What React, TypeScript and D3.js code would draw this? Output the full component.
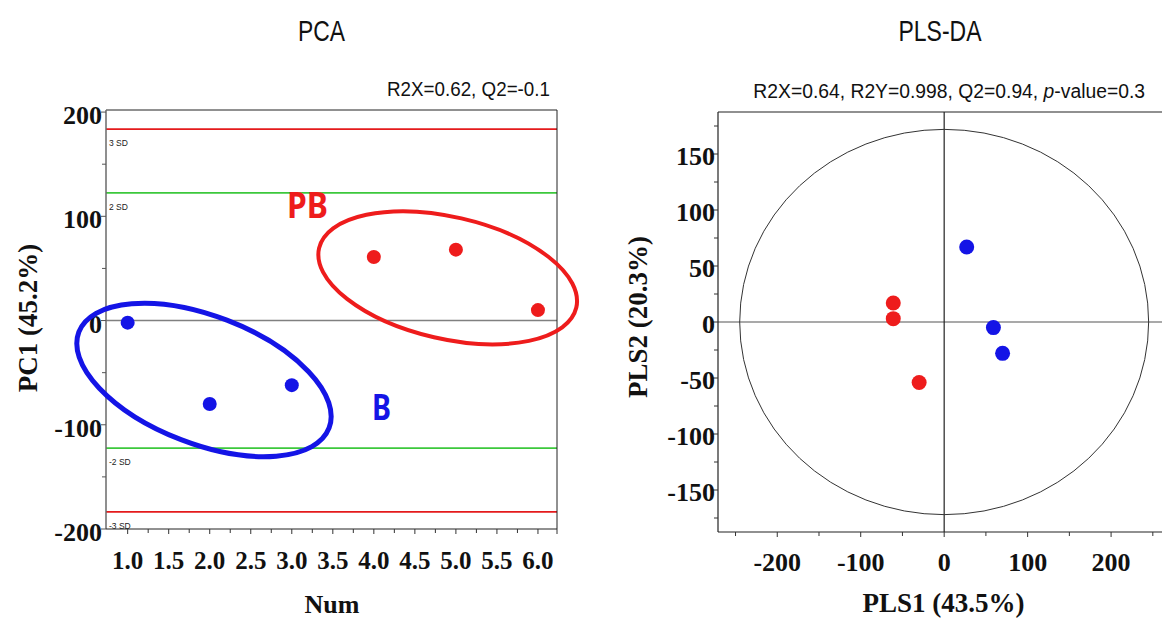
import React from "react";
import * as d3 from "d3";

// ---------- PCA data ----------
const pcaNum = [1, 2, 3, 4, 5, 6];
const pcaPC1 = [-2, -80, -62, 61, 68, 10];
const pcaGroup = ["B", "B", "B", "PB", "PB", "PB"];
const pcaYTicks = [-200, -100, 0, 100, 200];
const pcaYMinor = [-150, -50, 50, 150];
const pcaXTicks = [1.0, 1.5, 2.0, 2.5, 3.0, 3.5, 4.0, 4.5, 5.0, 5.5, 6.0];
const pcaXMinor = [1.25, 1.75, 2.25, 2.75, 3.25, 3.75, 4.25, 4.75, 5.25, 5.75];
const sdLevels = [183.6, 122.4, -122.4, -183.6];
const sdLabels = ["3 SD", "2 SD", "-2 SD", "-3 SD"];
// group ellipses: centre in data units
const ellipseGroups = ["B", "PB"];
const ellipseCx = [1.93, 4.9];
const ellipseCy = [-57, 41];

// ---------- PLS-DA data ----------
const plsX = [27, 59, 70, -61, -61, -30];
const plsY = [67, -5, -28, 17, 3, -54];
const plsGroup = ["B", "B", "B", "PB", "PB", "PB"];
const plsXTicks = [-200, -100, 0, 100, 200];
const plsXMinor = [-250, -150, -50, 50, 150, 250];
const plsYTicks = [-150, -100, -50, 0, 50, 100, 150];
const plsYMinor = [-175, -125, -75, -25, 25, 75, 125, 175];
const hotellingRx = 245;
const hotellingRy = 172;

const RED = "#ee1c1c";
const BLUE = "#1414e6";
const colorOf = (g: string) => (g === "B" ? BLUE : RED);
const SERIF = "'Liberation Serif', 'Times New Roman', serif";
const SANS = "'Liberation Sans Narrow', 'Liberation Sans', Arial, sans-serif";

export default function App() {
  // PCA scales
  const x1 = d3.scaleLinear().domain([0.736, 6.232]).range([106, 557]);
  const y1 = d3.scaleLinear().domain([-200, 202]).range([529, 110]);
  // PLS-DA scales
  const x2 = d3.scaleLinear().domain([-271, 261]).range([718, 1162]);
  const y2 = d3.scaleLinear().domain([-187.5, 187.5]).range([532, 112]);

  const ellGeom: Record<string, { a: number; b: number; ang: number; sw: number }> = {
    B: { a: 134, b: 64, ang: 21, sw: 5 },
    PB: { a: 132, b: 61, ang: 13, sw: 4 },
  };

  const [x1a, x1b] = x1.range();
  const [y1b, y1a] = y1.range();
  const [x2a, x2b] = x2.range();
  const [y2b, y2a] = y2.range();

  return (
    <svg
      width={1162}
      height={620}
      style={{ position: "absolute", left: 0, top: 0, background: "#fff" }}
    >
      <rect x={0} y={0} width={1162} height={620} fill="#fff" />

      {/* ================= PCA ================= */}
      <text x={321.5} y={41} fontFamily={SANS} fontSize={30} textAnchor="middle" textLength={47} lengthAdjust="spacingAndGlyphs" fill="#111">PCA</text>
      <text x={550} y={96} fontFamily={SANS} fontSize={21} textAnchor="end" textLength={163} lengthAdjust="spacingAndGlyphs" fill="#111">R2X=0.62,  Q2=-0.1</text>

      {/* SD lines */}
      {sdLevels.map((v, i) => (
        <g key={"sd" + i}>
          <line x1={x1a} x2={x1b} y1={y1(v)} y2={y1(v)} stroke={Math.abs(v) > 150 ? "#e41a1c" : "#3cc83c"} strokeWidth={1.8} />
          <text x={109} y={y1(v) + 17} fontFamily="'Liberation Sans', Arial, sans-serif" fontSize={8.5} fill="#222">{sdLabels[i]}</text>
        </g>
      ))}
      {/* zero line */}
      <line x1={x1a} x2={x1b} y1={y1(0)} y2={y1(0)} stroke="#808080" strokeWidth={1.5} />

      {/* frame */}
      <line x1={x1a} x2={x1b} y1={y1a} y2={y1a} stroke="#222" strokeWidth={1} />
      <line x1={x1b} x2={x1b} y1={y1a} y2={y1b} stroke="#222" strokeWidth={1} />
      <line x1={x1a} x2={x1a} y1={y1a} y2={y1b} stroke="#6a6a6a" strokeWidth={1.5} />
      <line x1={x1a} x2={x1b} y1={y1b} y2={y1b} stroke="#222" strokeWidth={1} />

      {/* y ticks */}
      {pcaYTicks.map((t) => (
        <g key={"py" + t}>
          <line x1={x1a - 5} x2={x1a} y1={y1(t)} y2={y1(t)} stroke="#555" />
          <text x={102} y={y1(t) + 12} fontFamily={SERIF} fontWeight="bold" fontSize={26} textAnchor="end" fill="#111">{t}</text>
        </g>
      ))}
      {pcaYMinor.map((t) => (
        <line key={"pym" + t} x1={x1a - 4} x2={x1a} y1={y1(t)} y2={y1(t)} stroke="#555" />
      ))}
      {/* x ticks */}
      {pcaXTicks.map((t) => (
        <g key={"px" + t}>
          <line x1={x1(t)} x2={x1(t)} y1={y1b} y2={y1b + 5} stroke="#333" />
          <text x={x1(t)} y={569} fontFamily={SERIF} fontWeight="bold" fontSize={25} textAnchor="middle" fill="#111">{t.toFixed(1)}</text>
        </g>
      ))}
      {pcaXMinor.map((t) => (
        <line key={"pxm" + t} x1={x1(t)} x2={x1(t)} y1={y1b} y2={y1b + 4} stroke="#333" />
      ))}
      <line x1={x1b} x2={x1b} y1={y1b} y2={y1b + 5} stroke="#333" />

      {/* axis titles */}
      <text x={332} y={613} fontFamily={SERIF} fontWeight="bold" fontSize={26} textAnchor="middle" fill="#111">Num</text>
      <text transform="translate(37,318) rotate(-90)" fontFamily={SERIF} fontWeight="bold" fontSize={27} textAnchor="middle" fill="#111">PC1 (45.2%)</text>

      {/* ellipses */}
      {ellipseGroups.map((g, i) => {
        const e = ellGeom[g];
        const cx = x1(ellipseCx[i]);
        const cy = y1(ellipseCy[i]);
        return (
          <ellipse key={"el" + g} cx={0} cy={0} rx={e.a} ry={e.b} transform={`translate(${cx},${cy}) rotate(${e.ang})`} fill="none" stroke={colorOf(g)} strokeWidth={e.sw} />
        );
      })}

      {/* points */}
      {pcaNum.map((n, i) => (
        <circle key={"pp" + i} cx={x1(n)} cy={y1(pcaPC1[i])} r={7} fill={colorOf(pcaGroup[i])} />
      ))}

      {/* group labels */}
      <text x={287} y={218} fontFamily="'Noto Sans', 'Open Sans', sans-serif" fontWeight="bold" fontSize={36} textLength={41} lengthAdjust="spacingAndGlyphs" fill={RED}>PB</text>
      <text x={372} y={420} fontFamily="'Noto Sans', 'Open Sans', sans-serif" fontWeight="bold" fontSize={36} textLength={19} lengthAdjust="spacingAndGlyphs" fill={BLUE}>B</text>

      {/* ================= PLS-DA ================= */}
      <text x={940} y={41} fontFamily={SANS} fontSize={30} textAnchor="middle" textLength={83} lengthAdjust="spacingAndGlyphs" fill="#111">PLS-DA</text>
      <text transform="translate(1145,98) scale(0.92,1)" fontFamily={SANS} fontSize={21} textAnchor="end" fill="#111">
        R2X=0.64,  R2Y=0.998,  Q2=0.94,  <tspan fontStyle="italic">p</tspan>-value=0.3
      </text>

      {/* crosshair */}
      <line x1={x2a} x2={x2b} y1={y2(0)} y2={y2(0)} stroke="#555" strokeWidth={1.2} />
      <line x1={x2(0)} x2={x2(0)} y1={y2a} y2={y2b} stroke="#222" strokeWidth={1.2} />

      {/* Hotelling ellipse */}
      <ellipse cx={x2(0)} cy={y2(0)} rx={x2(hotellingRx) - x2(0)} ry={y2(0) - y2(hotellingRy)} fill="none" stroke="#333" strokeWidth={1} />

      {/* frame */}
      <line x1={x2a} x2={x2b} y1={y2a} y2={y2a} stroke="#222" strokeWidth={1.2} />
      <line x1={x2a} x2={x2a} y1={y2a} y2={y2b} stroke="#222" strokeWidth={1.2} />
      <line x1={x2a} x2={x2b} y1={y2b} y2={y2b} stroke="#222" strokeWidth={1.2} />

      {/* ticks */}
      {plsYTicks.map((t) => (
        <g key={"ly" + t}>
          <line x1={x2a - 5} x2={x2a} y1={y2(t)} y2={y2(t)} stroke="#333" />
          <text x={715} y={y2(t) + 11} fontFamily={SERIF} fontWeight="bold" fontSize={26} textAnchor="end" fill="#111">{t}</text>
        </g>
      ))}
      {plsYMinor.map((t) => (
        <line key={"lym" + t} x1={x2a - 4} x2={x2a} y1={y2(t)} y2={y2(t)} stroke="#333" />
      ))}
      {plsXTicks.map((t) => (
        <g key={"lx" + t}>
          <line x1={x2(t)} x2={x2(t)} y1={y2b} y2={y2b + 5} stroke="#333" />
          <text x={x2(t)} y={571} fontFamily={SERIF} fontWeight="bold" fontSize={26} textAnchor="middle" fill="#111">{t}</text>
        </g>
      ))}
      {plsXMinor.map((t) => (
        <line key={"lxm" + t} x1={x2(t)} x2={x2(t)} y1={y2b} y2={y2b + 4} stroke="#333" />
      ))}

      {/* axis titles */}
      <text x={943.5} y={612} fontFamily={SERIF} fontWeight="bold" fontSize={27} textAnchor="middle" fill="#111">PLS1 (43.5%)</text>
      <text transform="translate(647,317) rotate(-90)" fontFamily={SERIF} fontWeight="bold" fontSize={27} textAnchor="middle" fill="#111">PLS2 (20.3%)</text>

      {/* points */}
      {plsX.map((v, i) => (
        <circle key={"lp" + i} cx={x2(v)} cy={y2(plsY[i])} r={7.5} fill={colorOf(plsGroup[i])} />
      ))}
    </svg>
  );
}
